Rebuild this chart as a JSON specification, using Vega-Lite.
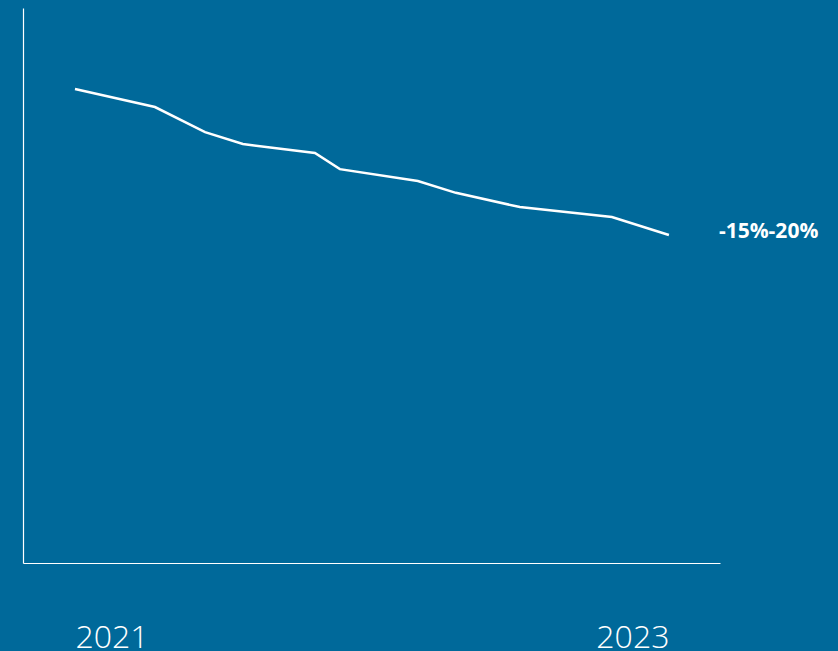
{
  "$schema": "https://vega.github.io/schema/vega-lite/v6.json",
  "width": 697,
  "height": 555,
  "autosize": {"type": "none"},
  "padding": {"left": 23, "top": 8, "right": 118, "bottom": 88},
  "background": "#00699a",
  "config": {"view": {"stroke": null}, "font": "Open Sans"},
  "data": {"values": [
    {"month": 0, "value": 100, "label": ""},
    {"month": 4.04, "value": 96.2, "label": ""},
    {"month": 6.57, "value": 90.9, "label": ""},
    {"month": 8.48, "value": 88.4, "label": ""},
    {"month": 12.12, "value": 86.5, "label": ""},
    {"month": 13.38, "value": 83.1, "label": ""},
    {"month": 17.32, "value": 80.6, "label": ""},
    {"month": 19.24, "value": 78.1, "label": ""},
    {"month": 22.47, "value": 75.1, "label": ""},
    {"month": 27.12, "value": 73.0, "label": ""},
    {"month": 30, "value": 69.2, "label": "-15%-20%"}
  ]},
  "encoding": {
    "x": {"field": "month", "type": "quantitative",
      "scale": {"domain": [-2.626, 32.58], "nice": false, "zero": false},
      "axis": {"title": null, "values": [0, 30], "grid": false, "ticks": false,
        "domainColor": "white", "domainWidth": 1.2,
        "labelExpr": "datum.value < 15 ? '2021' : '2023'",
        "labelAlign": {"expr": "datum.value < 15 ? 'left' : 'right'"},
        "labelColor": "white", "labelFontSize": 32, "labelFontWeight": 300,
        "labelFont": "Open Sans", "labelBaseline": "top", "labelPadding": 59}},
    "y": {"field": "value", "type": "quantitative",
      "scale": {"domain": [0, 117.1], "nice": false},
      "axis": {"title": null, "labels": false, "ticks": false, "grid": false,
        "domainColor": "white", "domainWidth": 1.2}}
  },
  "layer": [
    {"mark": {"type": "line", "color": "white", "strokeWidth": 2.5}},
    {"transform": [{"filter": "datum.label != ''"}],
     "mark": {"type": "text", "color": "white", "fontSize": 21, "fontWeight": "bold",
       "font": "Open Sans", "align": "left", "baseline": "middle", "dx": 50, "dy": -3},
     "encoding": {"text": {"field": "label"}}}
  ]
}
